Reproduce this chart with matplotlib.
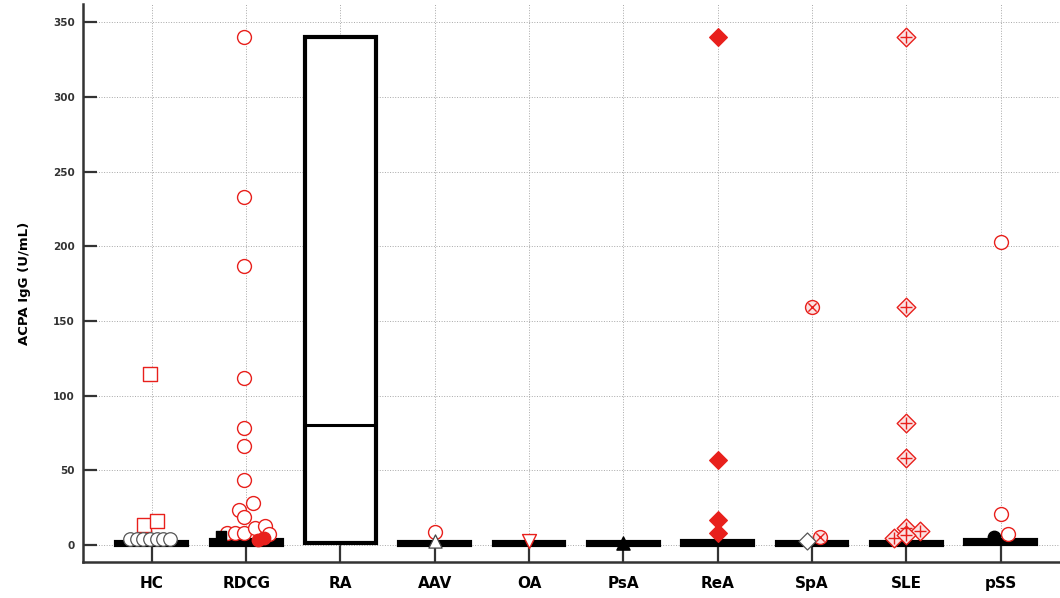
import matplotlib.pyplot as plt
import numpy as np

# Grupos e estatisticas das caixas
categorias = ['HC', 'RDCG', 'RA', 'AAV', 'OA', 'PsA', 'ReA', 'SpA', 'SLE', 'pSS']
box_q1 = [0.3, 0.3, 1.0, 0.3, 0.3, 0.3, 0.3, 0.3, 0.3, 0.5]
box_med = [1.0, 1.5, 80.0, 1.0, 1.0, 1.0, 1.0, 1.0, 1.0, 2.0]
box_q3 = [2.0, 3.0, 340.0, 1.8, 1.8, 1.8, 2.5, 1.8, 2.0, 3.5]

# Valores individuais (U/mL)
hc_out = [114.5, 13.4, 16.0]
hc_in = [4.0, 4.0, 4.0, 4.0, 4.0, 4.0, 4.0]
rdcg_out = [340, 233, 187, 112, 78, 66.5, 43.5, 28, 23.4, 18.5, 7.8, 8.2, 8.2, 11.2, 12.9, 7.4]
rdcg_fill = [3.5, 4.5]
rdcg_black = [6.0]
aav_out = [8.7]
aav_in = [2.5]
oa_out = [2.8]
psa_in = [1.5]
rea_out = [340, 57, 16.5, 8]
spa_out = [159.3, 5.6]
spa_in = [2.9]
sle_out = [340, 159, 81.5, 58, 4.9, 11.2, 9.6, 6.7]
pss_out = [202.7, 20.5, 7.5]
pss_in = [5.5]

# deslocamento horizontal (jitter) de cada ponto
hc_out_dx = [-0.02, -0.085, 0.05]
hc_in_dx = [-0.23, -0.16, -0.095, -0.02, 0.05, 0.12, 0.19]
rdcg_out_dx = [-0.02, -0.02, -0.02, -0.02, -0.02, -0.02, -0.02, 0.07, -0.08, -0.02,
               -0.2, -0.12, -0.02, 0.09, 0.2, 0.24]
rdcg_fill_dx = [0.13, 0.19]
rdcg_black_dx = [-0.27]
spa_out_dx = [0, 0.09]
spa_in_dx = [-0.05]
sle_out_dx = [0, 0, 0, 0, -0.13, 0, 0.15, 0]
pss_out_dx = [0, 0, 0.08]
pss_in_dx = [-0.07]

vermelho = '#e8201c'
rosa = '#fbe3e3'
cinza = '#333333'

fig = plt.figure(figsize=(10.6, 5.98), dpi=100)
ax = fig.add_axes([0.0783, 0.0602, 0.9217, 0.9328])

# Caixas
stats = []
for i in range(len(categorias)):
    stats.append({'q1': box_q1[i], 'med': box_med[i], 'q3': box_q3[i],
                  'whislo': box_q1[i], 'whishi': box_q3[i], 'fliers': []})
ax.bxp(stats, positions=range(len(categorias)), widths=0.75, patch_artist=True,
       showcaps=False, showfliers=False,
       boxprops={'facecolor': 'white', 'edgecolor': 'black', 'linewidth': 3.0},
       medianprops={'color': 'black', 'linewidth': 2.2},
       whiskerprops={'color': 'black', 'linewidth': 3.0}, zorder=2)


def pontos(idx, valores, dx=None, **kw):
    if dx is None:
        dx = [0] * len(valores)
    x = [idx + d for d in dx]
    ax.scatter(x, valores, zorder=4, **kw)


# Pontos fora (vermelhos) e dentro (pretos/brancos)
pontos(0, hc_out, hc_out_dx, marker='s', s=95, facecolors='white', edgecolors=vermelho, linewidths=1.0)
pontos(0, hc_in, hc_in_dx, marker='o', s=95, facecolors='white', edgecolors='#555555', linewidths=0.9)
pontos(1, rdcg_out, rdcg_out_dx, marker='o', s=100, facecolors='white', edgecolors=vermelho, linewidths=1.0)
pontos(1, rdcg_fill, rdcg_fill_dx, marker='o', s=80, facecolors=vermelho, edgecolors=vermelho, linewidths=1.0)
pontos(1, rdcg_black, rdcg_black_dx, marker='s', s=50, facecolors='black', edgecolors='black')
pontos(3, aav_out, marker='o', s=100, facecolors='white', edgecolors=vermelho, linewidths=1.0)
pontos(3, aav_in, marker='^', s=90, facecolors='white', edgecolors='#444444', linewidths=0.9)
pontos(4, oa_out, marker='v', s=100, facecolors='white', edgecolors=vermelho, linewidths=1.0)
pontos(5, psa_in, marker='^', s=90, facecolors='black', edgecolors='black')
pontos(6, rea_out, marker='D', s=80, facecolors=vermelho, edgecolors=vermelho)
pontos(7, spa_out, spa_out_dx, marker='o', s=100, facecolors=rosa, edgecolors=vermelho, linewidths=1.0)
pontos(7, spa_out, spa_out_dx, marker='x', s=35, c=vermelho, linewidths=1.0)
pontos(7, spa_in, spa_in_dx, marker='D', s=75, facecolors='white', edgecolors='#555555', linewidths=0.9)
pontos(8, sle_out, sle_out_dx, marker='D', s=90, facecolors=rosa, edgecolors=vermelho, linewidths=1.0)
pontos(8, sle_out, sle_out_dx, marker='+', s=70, c=vermelho, linewidths=1.0)
pontos(9, pss_out, pss_out_dx, marker='o', s=100, facecolors='white', edgecolors=vermelho, linewidths=1.0)
pontos(9, pss_in, pss_in_dx, marker='o', s=80, facecolors='black', edgecolors='black')

# Eixos
ax.set_xlim(-0.73, 9.63)
ax.set_ylim(-11.4, 362)
ax.set_xticks(range(len(categorias)))
ax.set_xticklabels(categorias, fontsize=11, fontweight='bold')
ax.set_yticks(np.arange(0, 351, 50))
for lab in ax.get_yticklabels():
    lab.set_fontweight('bold')
ax.tick_params(axis='y', direction='in', length=10, width=1.6, color=cinza,
               labelsize=7.5, labelcolor=cinza, pad=6)
ax.tick_params(axis='x', direction='in', length=12, width=1.6, color=cinza, pad=10)
ax.set_ylabel('ACPA IgG (U/mL)', fontsize=9.5, fontweight='bold', labelpad=16)

ax.grid(True, linestyle=':', color='#a8a8a8', linewidth=0.7, zorder=0)
ax.set_axisbelow(True)
ax.spines['top'].set_visible(False)
ax.spines['right'].set_visible(False)
for lado in ['left', 'bottom']:
    ax.spines[lado].set_linewidth(1.8)
    ax.spines[lado].set_color(cinza)

plt.savefig('out.png', dpi=100)
